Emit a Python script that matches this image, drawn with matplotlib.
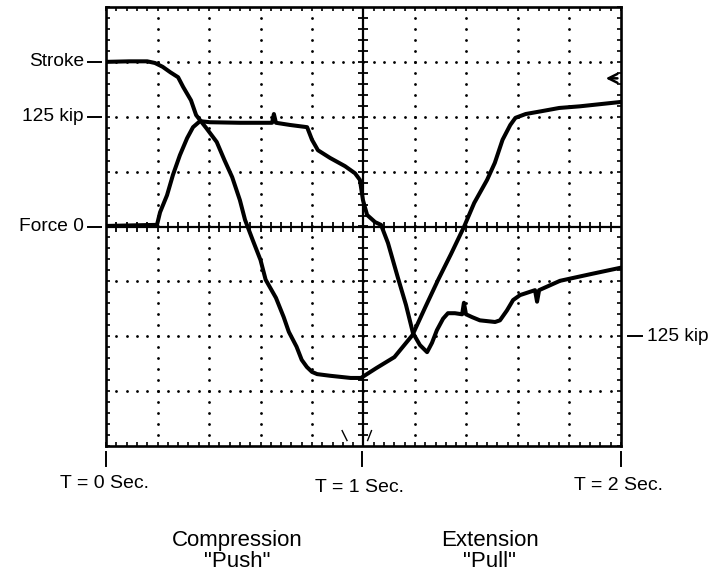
import numpy as np
import matplotlib
matplotlib.use("Agg")
import matplotlib.pyplot as plt
from matplotlib.lines import Line2D
from matplotlib.ticker import MultipleLocator

plt.rcParams['font.family'] = ['Liberation Sans', 'DejaVu Sans']

# ---- data (time in seconds, vertical in screen divisions; 1 div = 62.5 kip) ----
stroke_t = [0.0, 0.09, 0.16, 0.19, 0.22, 0.25, 0.28, 0.30, 0.33, 0.35, 0.39, 0.43, 0.46,
            0.49, 0.52, 0.54, 0.57, 0.60, 0.62, 0.66, 0.69, 0.71, 0.74, 0.76, 0.78, 0.80,
            0.82, 0.87, 0.95, 0.99, 1.05, 1.12, 1.19, 1.24, 1.29, 1.34, 1.39, 1.43, 1.48,
            1.51, 1.54, 1.57, 1.59, 1.63, 1.69, 1.76, 1.84, 1.92, 2.0]
stroke_y = [3.0, 3.01, 3.01, 2.98, 2.91, 2.81, 2.72, 2.54, 2.30, 2.03, 1.79, 1.54, 1.21,
            0.90, 0.48, 0.12, -0.25, -0.61, -0.97, -1.30, -1.65, -1.92, -2.19, -2.43, -2.56,
            -2.65, -2.69, -2.72, -2.76, -2.76, -2.58, -2.38, -1.98, -1.47, -0.97, -0.50,
            -0.01, 0.43, 0.85, 1.16, 1.58, 1.85, 1.98, 2.05, 2.10, 2.16, 2.19, 2.23, 2.27]

force_t = [0.0, 0.198, 0.210, 0.237, 0.260, 0.287, 0.315, 0.338, 0.365, 0.404, 0.520, 0.645,
           0.652, 0.660, 0.715, 0.781, 0.800, 0.823, 0.870, 0.928, 0.967, 0.986, 0.998,
           1.014, 1.045, 1.068, 1.095, 1.134, 1.165, 1.192, 1.219, 1.247, 1.266, 1.285,
           1.309, 1.328, 1.355, 1.383, 1.390, 1.398, 1.421, 1.452, 1.511, 1.530, 1.557,
           1.581, 1.608, 1.666, 1.674, 1.682, 1.763, 1.880, 2.0]
force_y = [0.01, 0.03, 0.26, 0.57, 0.94, 1.30, 1.61, 1.81, 1.92, 1.90, 1.89, 1.89,
           2.05, 1.89, 1.85, 1.81, 1.58, 1.39, 1.25, 1.10, 0.97, 0.85, 0.48,
           0.21, 0.08, 0.03, -0.30, -0.94, -1.43, -1.94, -2.16, -2.29, -2.12, -1.89,
           -1.68, -1.58, -1.58, -1.60, -1.39, -1.60, -1.65, -1.71, -1.74, -1.71, -1.53,
           -1.34, -1.25, -1.16, -1.37, -1.16, -0.99, -0.87, -0.75]

left_labels = ["Stroke", "125 kip", "Force 0"]
left_label_y = [3.0, 2.0, 0.0]
right_label = "125 kip"
right_label_y = -2.0
time_labels = ["T = 0 Sec.", "T = 1 Sec.", "T = 2 Sec."]
time_values = [0.0, 1.0, 2.0]
phase_labels = ["Compression\n\"Push\"", "Extension\n\"Pull\""]
phase_t = [0.51, 1.49]
trigger_marks = [([0.917, 0.936], [-3.72, -3.90]), ([1.031, 1.016], [-3.72, -3.90])]

# ---- figure ----
W, H = 713, 573
fig = plt.figure(figsize=(W / 100, H / 100), dpi=100)
L, R, T, B = 106, 621, 7, 446
ax = fig.add_axes([L / W, 1 - B / H, (R - L) / W, (B - T) / H])
ax.set_xlim(0, 2)
ax.set_ylim(-4, 4)


def fx(px):
    return px / W


def fy(py):
    return 1 - py / H


for s in ax.spines.values():
    s.set_linewidth(1.9)
    s.set_color('black')

ax.xaxis.set_major_locator(MultipleLocator(0.04))
ax.yaxis.set_major_locator(MultipleLocator(0.2))
ax.tick_params(axis='both', which='major', direction='in', length=3.2, width=1.2,
               top=True, right=True, labelbottom=False, labelleft=False, color='black')

# dotted graticule
major_t = [0.2, 0.4, 0.6, 0.8, 1.2, 1.4, 1.6, 1.8]
major_y = [-3, -2, -1, 1, 2, 3]
dot_y = np.arange(-3.8, 3.81, 0.2)
dot_t = np.arange(0.04, 1.961, 0.04)
for t in major_t:
    ax.plot(np.full_like(dot_y, t), dot_y, ls='none', marker='o', ms=2.0, color='black', mew=0)
for y in major_y:
    ax.plot(dot_t, np.full_like(dot_t, y), ls='none', marker='o', ms=2.0, color='black', mew=0)

# centre axes with cross ticks
ax.axhline(0, color='black', lw=1.6)
ax.axvline(1.0, color='black', lw=1.6)
ct = np.arange(0.04, 1.961, 0.04)
cy = np.arange(-3.8, 3.81, 0.2)
ax.plot(ct, np.zeros_like(ct), ls='none', marker='|', ms=6.5, mew=1.3, color='black')
ax.plot(np.ones_like(cy), cy, ls='none', marker='_', ms=6.5, mew=1.3, color='black')

# traces
ax.plot(stroke_t, stroke_y, color='black', lw=2.9, solid_joinstyle='round', solid_capstyle='round')
ax.plot(force_t, force_y, color='black', lw=2.9, solid_joinstyle='round', solid_capstyle='round')

for mt, my in trigger_marks:
    ax.plot(mt, my, color='black', lw=1.0)

ax.annotate('', xy=(1.930, 2.70), xytext=(1.997, 2.70),
            arrowprops=dict(arrowstyle='->', lw=1.8, color='black', mutation_scale=16),
            annotation_clip=False)


def ypx(yv):
    return 226.5 - yv * 54.9


def tpx(tv):
    return L + tv * (R - L) / 2


# left labels with dashes
for lab, yv in zip(left_labels, left_label_y):
    py = ypx(yv)
    fig.text(fx(84), fy(py), lab, ha='right', va='center', fontsize=13.8)
    fig.add_artist(Line2D([fx(88), fx(101)], [fy(py), fy(py)], color='black', lw=1.4))

py = ypx(right_label_y)
fig.add_artist(Line2D([fx(628), fx(642)], [fy(py), fy(py)], color='black', lw=1.4))
fig.text(fx(647), fy(py), right_label, ha='left', va='center', fontsize=13.8)

# time ticks and labels
time_label_y = [483, 488, 486]
for lab, tv, ly in zip(time_labels, time_values, time_label_y):
    px = tpx(tv) - (2 if tv == 1.0 else 0)
    fig.add_artist(Line2D([fx(px), fx(px)], [fy(452), fy(466)], color='black', lw=1.4))
    fig.text(fx(px - 2), fy(ly), lab, ha='center', va='center', fontsize=14)

for lab, tv in zip(phase_labels, phase_t):
    fig.text(fx(tpx(tv)), fy(551), lab, ha='center', va='center', fontsize=16,
             linespacing=1.0)

fig.savefig('out.png', dpi=100)
